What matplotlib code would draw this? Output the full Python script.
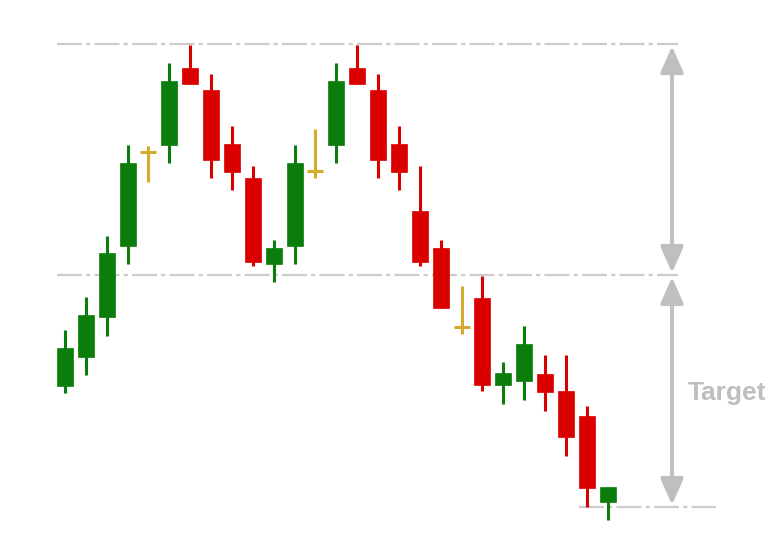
import matplotlib
matplotlib.use("Agg")
import matplotlib.pyplot as plt
from matplotlib.patches import FancyArrowPatch

plt.rcParams['lines.scale_dashes'] = False

# OHLC values (arbitrary price units)
opens  = [162, 191, 231, 302, 396, 403, 480, 458, 404, 370, 284, 302, 377, 403, 480, 458, 404, 337, 300, 221, 250, 163, 167, 174, 157, 132, 46]
closes = [200, 233, 295, 385, 396, 467, 464, 388, 376, 286, 300, 385, 377, 467, 464, 388, 376, 286, 240, 221, 163, 175, 204, 156, 111, 60, 61]
highs  = [218, 251, 312, 403, 402, 485, 503, 474, 422, 382, 308, 403, 419, 485, 503, 474, 422, 382, 308, 262, 272, 186, 222, 193, 193, 142, 61]
lows   = [155, 173, 212, 284, 366, 385, 464, 370, 358, 282, 266, 284, 370, 385, 464, 370, 358, 282, 240, 214, 157, 144, 148, 137, 92, 41, 28]
doji_idx = [4, 12, 19]

levels = {"top": 504, "neck": 273, "target": 41}

GREEN = '#0A7D0A'
RED = '#DA0000'
GOLD = '#D6AA2C'
LINE = '#CCCCCC'
ARROW = '#BFBFBF'

fig = plt.figure(figsize=(7.73, 5.48), dpi=100)
ax = fig.add_axes([0, 0, 1, 1])
spacing = 20.87
x0 = 65
ax.set_xlim(-x0 / spacing, (773 - x0) / spacing)
ax.set_ylim(0, 548)
ax.axis('off')

def px(xpix):
    return (xpix - x0) / spacing

# dashed levels
dash = (0, (18, 3, 3, 3))
ax.plot([px(57), px(678)], [levels["top"]] * 2, color=LINE, lw=1.6, ls=dash, zorder=1)
ax.plot([px(57), px(678)], [levels["neck"]] * 2, color=LINE, lw=1.6, ls=dash, zorder=1)
ax.plot([px(579), px(716)], [levels["target"]] * 2, color=LINE, lw=1.6, ls=dash, zorder=1)

bw = 16 / spacing
for i, (o, c, h, l) in enumerate(zip(opens, closes, highs, lows)):
    if i in doji_idx:
        col = GOLD
        ax.vlines(i, l, h, color=col, lw=2.2, zorder=2)
        ax.hlines(o, i - bw / 2, i + bw / 2, color=col, lw=2.2, zorder=2)
        continue
    col = GREEN if c > o else RED
    ax.vlines(i, l, h, color=col, lw=2.2, zorder=2)
    ax.bar(i, abs(c - o), bottom=min(o, c), width=bw, color=col, edgecolor=col, lw=0.5, zorder=3)

xa = px(672)
style = "<|-|>,head_length=0.8,head_width=0.35"
for a, b in [(levels["neck"], levels["top"]), (levels["target"], levels["neck"])]:
    arr = FancyArrowPatch((xa, a), (xa, b), arrowstyle=style, mutation_scale=20,
                          color=ARROW, lw=2.8, shrinkA=1.5, shrinkB=1.5, zorder=2)
    ax.add_patch(arr)

ax.text(px(727), 155, "Target", color='#BEBEBE', fontsize=19, fontweight='bold',
        family='Liberation Sans', ha='center', va='center')

fig.savefig("out.png", dpi=100)
